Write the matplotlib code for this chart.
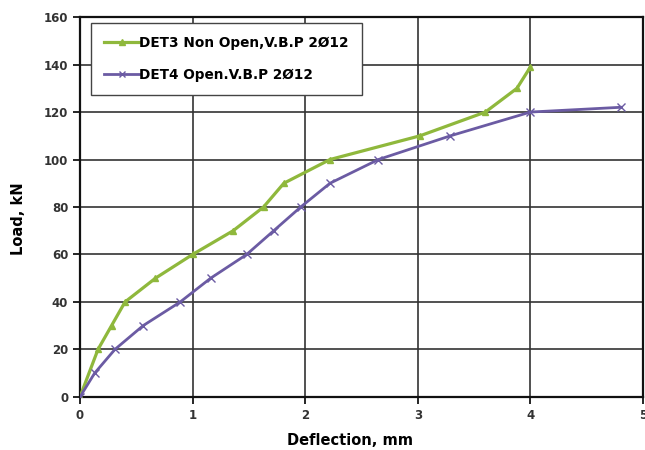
import matplotlib.pyplot as plt

# load-deflection readings for the two beams
det3_defl = [0, 0.16, 0.28, 0.40, 0.67, 1.00, 1.36, 1.63, 1.81, 2.22, 3.02, 3.60, 3.88, 4.00]
det3_load = [0, 20, 30, 40, 50, 60, 70, 80, 90, 100, 110, 120, 130, 139]
det4_defl = [0, 0.13, 0.31, 0.56, 0.89, 1.16, 1.48, 1.72, 1.96, 2.22, 2.65, 3.29, 4.00, 4.80]
det4_load = [0, 10, 20, 30, 40, 50, 60, 70, 80, 90, 100, 110, 120, 122]

green = '#8fb83c'
purple = '#6b5ba3'

fig = plt.figure(figsize=(6.45, 4.5), dpi=100)
ax = fig.add_axes([0.124, 0.118, 0.873, 0.844])

ax.plot(det3_defl, det3_load, color=green, lw=2.3, marker='^', ms=5,
        label='DET3 Non Open,V.B.P 2Ø12', zorder=3)
ax.plot(det4_defl, det4_load, color=purple, lw=2.0, marker='x', ms=6, mew=1.0,
        label='DET4 Open.V.B.P 2Ø12', zorder=3)

ax.set_xlim(0, 5)
ax.set_ylim(0, 160)
ax.set_xticks(range(0, 6))
ax.set_yticks(range(0, 161, 20))
ax.grid(True, color='#333333', lw=1.2)
for s in ax.spines.values():
    s.set_linewidth(1.6)
    s.set_color('#111111')
ax.tick_params(direction='out', length=5, width=1.2, labelsize=8.5,
               labelcolor='#333333')
for lbl in ax.get_xticklabels() + ax.get_yticklabels():
    lbl.set_fontweight('bold')

ax.set_xlabel('Deflection, mm', fontsize=10.5, fontweight='bold')
ax.xaxis.set_label_coords(0.48, -0.095)
ax.set_ylabel('Load, kN', fontsize=10.5, fontweight='bold')
ax.yaxis.set_label_coords(-0.095, 0.47)

leg = ax.legend(loc='upper left', bbox_to_anchor=(0.0195, 0.984),
                borderaxespad=0, prop={'weight': 'bold', 'size': 9.8},
                fancybox=False, edgecolor='#444444', framealpha=1,
                handlelength=2.6, handletextpad=0.0, labelspacing=1.3,
                borderpad=0.95, markerscale=0.8)
leg.get_frame().set_linewidth(1.0)

fig.savefig('out.png', dpi=100)
